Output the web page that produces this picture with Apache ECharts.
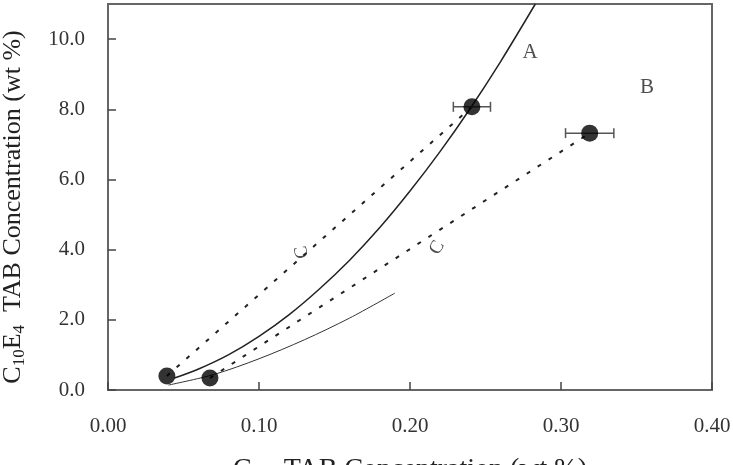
<!DOCTYPE html>
<html>
<head>
<meta charset="utf-8">
<script src="https://cdn.jsdelivr.net/npm/echarts@6/dist/echarts.min.js"></script>
<style>
  html, body { margin: 0; padding: 0; background: #fff; }
  #main { width: 733px; height: 465px; }
</style>
</head>
<body>
<div id="main"></div>
<script>
// measured points (wt %)
const pointX = [0.039, 0.0675, 0.241, 0.319]
const pointY = [0.40, 0.34, 8.07, 7.32]
const pointErr = [0, 0, 0.0123, 0.016]
// dashed tie lines: index pairs into the points
const tiePairs = [[0, 2], [1, 3]]
// curve A (solid)
const curveAX = [0.044, 0.06, 0.08, 0.10, 0.12, 0.14, 0.16, 0.18, 0.20, 0.22, 0.24, 0.26, 0.283]
const curveAY = [0.34, 0.60, 1.01, 1.53, 2.15, 2.88, 3.70, 4.63, 5.67, 6.80, 8.03, 9.36, 11.0]
// lower thin curve
const curveCX = [0.040, 0.07, 0.10, 0.13, 0.16, 0.19]
const curveCY = [0.14, 0.44, 0.89, 1.43, 2.05, 2.76]
// text labels on the plot
const noteText = ['A', 'B', 'C', 'C']
const noteX = [0.2795, 0.357, 0.1285, 0.218]
const noteY = [9.63, 8.61, 3.93, 4.05]
const noteRotate = [0, 0, 100, 60]

const serif = 'Liberation Serif'
const ink = '#222'

const zip = (xs, ys) => xs.map((x, i) => [x, ys[i]])

const tieSeries = tiePairs.map((p) => ({
  type: 'line',
  data: [[pointX[p[0]], pointY[p[0]]], [pointX[p[1]], pointY[p[1]]]],
  symbol: 'none',
  lineStyle: { color: ink, width: 2, type: [4, 9] },
  z: 2
}))

const myChart = echarts.init(document.getElementById('main'))
const option = {
  animation: false,
  grid: {
    left: 108, right: 21, top: 4, bottom: 75,
    outerBoundsMode: 'none',
    show: true, borderColor: '#666', borderWidth: 2
  },
  xAxis: {
    type: 'value',
    min: 0,
    max: 0.4,
    interval: 0.1,
    name: '{n|C}{s|12}{n|  TAB Concentration (wt %)}',
    nameLocation: 'middle',
    nameGap: 64,
    nameTextStyle: {
      rich: {
        n: { fontFamily: serif, fontSize: 28, color: ink },
        s: { fontFamily: serif, fontSize: 18, color: ink, padding: [13, 0, 0, 0] }
      }
    },
    axisLine: { lineStyle: { color: '#666', width: 2 } },
    axisTick: { inside: true, length: 8, lineStyle: { color: '#444', width: 1.5 } },
    axisLabel: { margin: 26, fontFamily: serif, fontSize: 21, color: '#333', formatter: (v) => v.toFixed(2) },
    splitLine: { show: false }
  },
  yAxis: {
    type: 'value',
    min: 0,
    max: 11,
    interval: 2,
    name: '{n|C}{s|10}{n|E}{s|4}{n|  TAB Concentration (wt %)}',
    nameLocation: 'middle',
    nameGap: 80,
    nameTextStyle: {
      padding: [0, 20, 0, 0],
      rich: {
        n: { fontFamily: serif, fontSize: 26, color: ink },
        s: { fontFamily: serif, fontSize: 17, color: ink, padding: [12, 0, 0, 0] }
      }
    },
    axisLine: { lineStyle: { color: '#666', width: 2 } },
    axisTick: { inside: true, length: 8, lineStyle: { color: '#444', width: 1.5 } },
    axisLabel: {
      margin: 23,
      fontFamily: serif,
      fontSize: 21,
      color: '#333',
      showMaxLabel: false,
      formatter: (v) => (v > 10 ? '' : v.toFixed(1))
    },
    splitLine: { show: false }
  },
  series: [
    ...tieSeries,
    {
      type: 'line',
      data: zip(curveAX, curveAY),
      smooth: 0.3,
      symbol: 'none',
      lineStyle: { color: ink, width: 1.5 },
      z: 3
    },
    {
      type: 'line',
      data: zip(curveCX, curveCY),
      smooth: 0.3,
      symbol: 'none',
      lineStyle: { color: '#333', width: 1 },
      z: 3
    },
    {
      type: 'custom',
      data: pointX.map((x, i) => [x, pointY[i], pointErr[i]]).filter((d) => d[2] > 0),
      renderItem: function (params, api) {
        const y = api.value(1)
        const lo = api.coord([api.value(0) - api.value(2), y])
        const hi = api.coord([api.value(0) + api.value(2), y])
        const st = { stroke: '#555', lineWidth: 1.5 }
        return {
          type: 'group',
          children: [
            { type: 'line', shape: { x1: lo[0], y1: lo[1], x2: hi[0], y2: hi[1] }, style: st },
            { type: 'line', shape: { x1: lo[0], y1: lo[1] - 5, x2: lo[0], y2: lo[1] + 5 }, style: st },
            { type: 'line', shape: { x1: hi[0], y1: hi[1] - 5, x2: hi[0], y2: hi[1] + 5 }, style: st }
          ]
        }
      },
      z: 4
    },
    {
      type: 'scatter',
      data: zip(pointX, pointY),
      symbol: 'circle',
      symbolSize: 17,
      itemStyle: { color: '#000' },
      z: 5
    },
    {
      type: 'scatter',
      data: noteX.map((x, i) => ({
        value: [x, noteY[i]],
        label: { formatter: noteText[i], rotate: noteRotate[i], fontSize: i < 2 ? 21 : 19 }
      })),
      symbolSize: 0,
      label: {
        show: true,
        position: 'inside',
        fontFamily: serif,
        color: ink
      },
      z: 6
    }
  ]
}
myChart.setOption(option)
</script>
</body>
</html>
